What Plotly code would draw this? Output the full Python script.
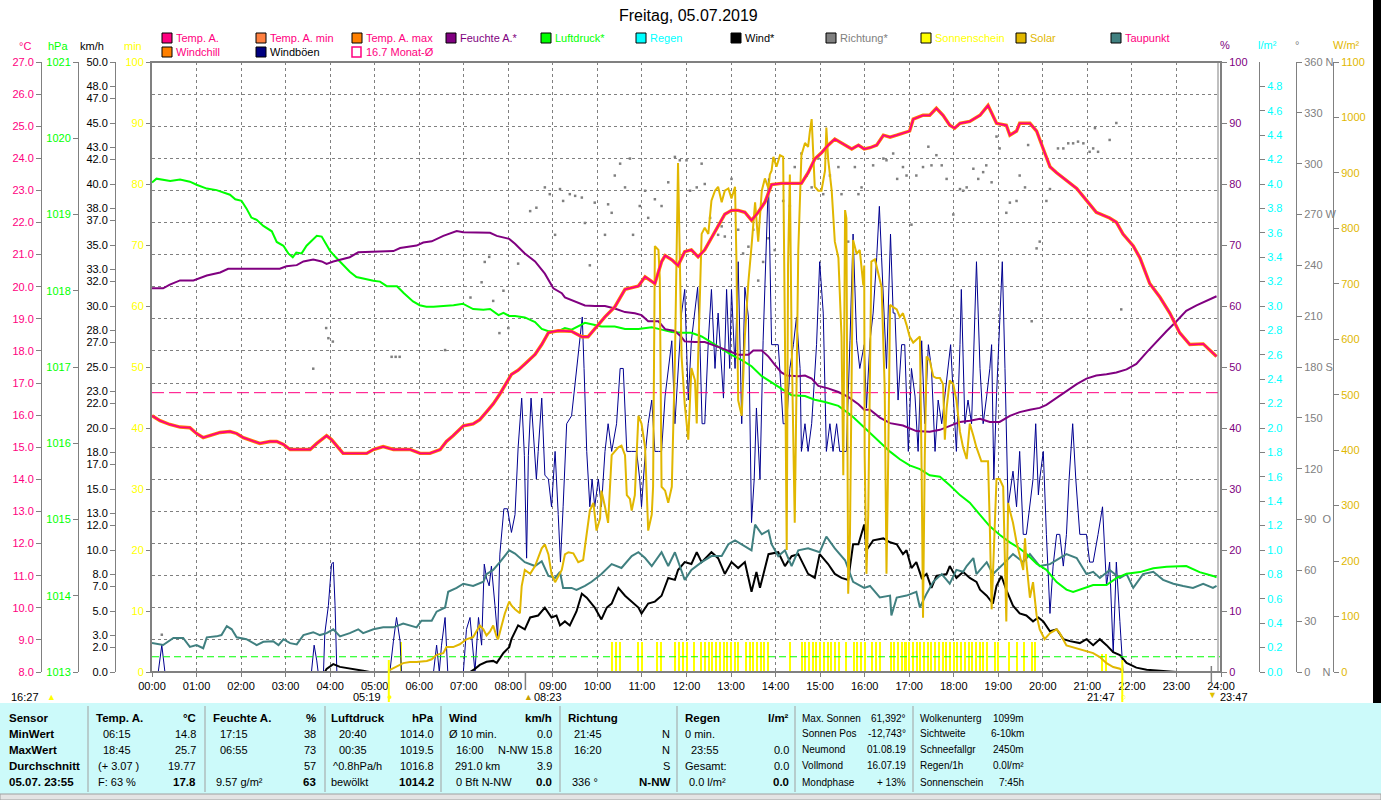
import plotly.graph_objects as go

W, H = 1381, 800
FONT = "Liberation Sans, Arial, sans-serif"

# ---------------- data (hours of day / values) ----------------
temp_t = [0, 0.18, 0.40, 0.63, 0.85, 1.00, 1.15, 1.30, 1.53, 1.75, 1.90, 2.05, 2.27, 2.42, 2.65, 2.80, 2.95, 3.10, 3.32, 3.55,
          3.70, 3.92, 4.03, 4.14, 4.29, 4.44, 4.82, 4.97, 5.19, 5.42, 5.79, 6.02, 6.24, 6.47, 6.61, 6.76, 6.99, 7.21, 7.36, 7.51,
          7.66, 7.81, 8.02,
          8.07, 8.22, 8.37, 8.60, 8.75, 8.90, 9.12, 9.42, 9.65, 9.79, 9.94, 10.17, 10.39, 10.62, 10.92, 11.07, 11.29, 11.44, 11.52, 11.67,
          11.81, 11.96, 12.11, 12.26, 12.41, 12.56, 12.71, 12.86, 13.01, 13.16, 13.31, 13.46, 13.61, 13.76, 13.91, 14.13, 14.36, 14.58, 14.73, 14.88,
          15.03, 15.18, 15.33, 15.48, 15.71, 15.86, 15.99,
          16.12, 16.27, 16.42, 16.57, 16.72, 16.86, 17.01, 17.09, 17.31, 17.46, 17.61, 17.76, 17.91, 18.02, 18.14, 18.36, 18.59, 18.77, 18.88, 18.96,
          19.18, 19.26, 19.41, 19.48, 19.71, 19.86, 20.01, 20.16, 20.31, 20.53, 20.76, 20.98, 21.20, 21.50, 21.65, 21.80, 22.03, 22.18, 22.40, 22.63,
          22.85, 23.07, 23.30, 23.60, 23.75, 23.90]
temp_v = [15.98, 15.83, 15.71, 15.63, 15.61, 15.43, 15.30, 15.36, 15.46, 15.49, 15.43, 15.30, 15.20, 15.12, 15.18, 15.18, 15.09, 14.93, 14.93, 14.93,
          15.12, 15.36, 15.24, 15.06, 14.81, 14.81, 14.81, 14.93, 15.02, 14.93, 14.93, 14.81, 14.81, 14.93, 15.18, 15.36, 15.67, 15.73, 15.86, 16.10,
          16.35, 16.66, 17.15,
          17.27, 17.40, 17.58, 17.89, 18.20, 18.57, 18.63, 18.61, 18.44, 18.44, 18.69, 19.06, 19.37, 19.92, 20.02, 20.31, 20.10, 20.78, 20.97, 20.84,
          20.66, 21.09, 21.15, 20.93, 21.15, 21.52, 21.89, 22.26, 22.38, 22.38, 22.32, 22.07, 22.32, 22.63, 23.18, 23.22, 23.22, 23.22, 23.55, 23.98,
          24.17, 24.41, 24.60, 24.48, 24.29, 24.41, 24.29,
          24.33, 24.41, 24.72, 24.66, 24.72, 24.78, 24.85, 25.22, 25.34, 25.34, 25.56, 25.34, 25.03, 24.94, 25.09, 25.15, 25.34, 25.65, 25.34, 25.09,
          25.03, 24.72, 24.85, 25.09, 25.09, 24.85, 24.29, 23.74, 23.55, 23.31, 23.06, 22.69, 22.32, 22.14, 22.01, 21.64, 21.27, 20.90, 20.10, 19.67,
          19.18, 18.57, 18.20, 18.22, 18.01, 17.83]

dew_t = [0, 0.25, 0.48, 0.70, 0.85, 1.00, 1.15, 1.23, 1.45, 1.56, 1.68, 1.79, 1.90, 2.12, 2.35, 2.50, 2.72, 2.84, 2.95, 3.10,
         3.25, 3.40, 3.62, 3.77, 3.92, 4.07, 4.22, 4.44, 4.63, 4.74, 4.97, 5.19, 5.42, 5.53, 5.64, 5.94, 6.05, 6.28, 6.39, 6.58,
         6.65, 6.84, 6.99, 7.21, 7.44, 7.51, 7.66, 7.81, 8.02,
         8.15, 8.37, 8.60, 8.75, 8.90, 9.05, 9.16, 9.23, 9.42, 9.53, 9.72, 9.87, 10.09, 10.32, 10.54, 10.77, 10.92, 11.07, 11.22, 11.44,
         11.59, 11.74, 11.96, 12.11, 12.34, 12.56, 12.79, 12.94, 13.09, 13.24, 13.46, 13.54, 13.69, 13.84, 13.91, 14.06, 14.21, 14.36, 14.51, 14.73,
         14.99, 15.14, 15.33, 15.56, 15.74, 15.99,
         16.12, 16.34, 16.57, 16.60, 16.72, 16.94, 17.16, 17.24, 17.39, 17.54, 17.73, 17.91, 18.06, 18.21, 18.29, 18.44, 18.51, 18.74, 18.88, 19.11,
         19.33, 19.56, 19.71, 19.93, 20.16, 20.38, 20.53, 20.76, 20.98, 21.13, 21.28, 21.50, 21.73, 21.88, 22.03, 22.25, 22.48, 22.70, 22.93, 23.15,
         23.37, 23.60, 23.82, 23.90]
dew_v = [8.90, 8.84, 9.06, 9.06, 8.78, 8.84, 8.74, 9.08, 9.11, 9.15, 9.43, 9.33, 9.08, 9.02, 8.84, 8.94, 8.96, 8.84, 9.02, 8.90,
         8.86, 9.15, 9.24, 9.15, 9.21, 9.33, 9.11, 9.21, 9.33, 9.21, 9.33, 9.39, 9.39, 9.45, 9.51, 9.39, 9.60, 9.60, 9.88, 10.01,
         10.50, 10.62, 10.75, 10.68, 10.81, 11.05, 11.18, 11.42, 11.79,
         11.69, 11.42, 11.30, 11.45, 10.99, 10.93, 11.12, 10.62, 10.62, 10.56, 10.68, 10.81, 11.05, 11.36, 11.24, 11.61, 11.73, 11.55, 11.30, 11.73,
         11.30, 11.73, 10.87, 11.18, 11.42, 11.61, 11.61, 11.98, 12.10, 11.98, 11.79, 12.59, 12.29, 12.41, 11.98, 11.61, 11.79, 11.30, 11.79, 11.85,
         11.73, 12.22, 11.85, 11.48, 10.81, 10.62,
         10.68, 10.32, 10.38, 9.76, 10.32, 10.38, 10.50, 10.01, 10.44, 10.81, 11.05, 10.75, 11.18, 11.12, 11.30, 11.55, 11.05, 11.42, 11.05, 11.36,
         11.67, 11.42, 11.67, 11.30, 11.36, 11.55, 11.67, 11.55, 11.05, 11.12, 10.93, 11.18, 10.93, 11.05, 10.62, 11.05, 11.12, 10.87, 10.75, 10.68,
         10.62, 10.75, 10.62, 10.68]

hum_t = [0, 0.25, 0.40, 0.63, 0.93, 1.23, 1.53, 1.71, 2.20, 2.87, 3.02, 3.25, 3.40, 3.62, 3.81, 3.92, 4.07, 4.22, 4.44, 4.63,
         4.89, 5.42, 5.57, 5.94, 6.09, 6.28, 6.54, 6.84, 6.99, 7.59, 7.74, 8.02,
         8.15, 8.37, 8.60, 8.82, 9.01, 9.20, 9.27, 9.50, 9.72, 9.94, 10.17, 10.39, 10.62, 10.84, 10.99, 11.14, 11.37, 11.52, 11.74, 11.89,
         11.96, 12.19, 12.41, 12.71, 13.01, 13.16, 13.39, 13.50, 13.69, 13.84, 13.98, 14.13, 14.25, 14.51, 14.66, 14.81, 14.96, 15.18, 15.41, 15.63,
         15.86, 15.99,
         16.12, 16.34, 16.57, 16.86, 17.16, 17.46, 17.69, 17.91, 18.14, 18.36, 18.59, 18.81, 19.03, 19.26, 19.48, 19.71, 19.93, 20.08, 20.31, 20.53,
         20.76, 20.98, 21.20, 21.43, 21.65, 21.88, 22.10, 22.33, 22.55, 22.78, 23.00, 23.22, 23.45, 23.67, 23.90]
hum_v = [62.9, 62.9, 63.5, 64.2, 64.2, 65.0, 65.5, 66.1, 66.1, 66.1, 66.5, 66.7, 67.3, 67.6, 67.3, 66.9, 67.3, 67.6, 68.0, 68.8,
         68.9, 69.0, 69.5, 69.9, 70.4, 70.6, 71.5, 72.3, 72.1, 72.0, 71.5, 71.0,
         70.2, 68.6, 67.3, 65.3, 62.9, 62.1, 61.4, 60.7, 60.1, 60.0, 60.0, 59.6, 59.0, 58.8, 58.5, 57.5, 57.5, 56.2, 55.9, 54.9,
         54.2, 54.1, 54.1, 53.3, 52.4, 52.0, 52.0, 52.7, 52.7, 51.7, 50.4, 49.1, 48.6, 48.5, 48.6, 48.1, 46.9, 46.5, 45.9, 45.1,
         43.9, 43.0,
         43.0, 41.7, 40.8, 40.4, 39.5, 39.4, 39.7, 40.4, 41.0, 41.2, 41.5, 41.0, 41.0, 42.0, 42.6, 43.0, 43.3, 43.8, 44.9, 46.0,
         47.2, 48.1, 48.6, 48.8, 49.1, 49.6, 50.5, 52.4, 54.2, 55.9, 57.5, 59.2, 60.1, 60.9, 61.6]

pres_t = [0, 0.10, 0.41, 0.63, 0.85, 1.00, 1.23, 1.45, 1.75, 1.87, 2.01, 2.12, 2.23, 2.35, 2.50, 2.69, 2.80, 2.95, 3.06, 3.16,
          3.24, 3.36, 3.47, 3.58, 3.70, 3.81, 3.88, 4.00, 4.11, 4.26, 4.44, 4.59, 4.74, 4.97, 5.12, 5.27, 5.50, 5.65, 5.86, 6.01,
          6.16, 6.32, 6.54, 6.77, 6.98, 7.21, 7.44, 7.59, 7.78, 7.89, 8.02,
          8.15, 8.37, 8.60, 8.75, 8.90, 9.12, 9.27, 9.42, 9.57, 9.72, 9.87, 10.09, 10.39, 10.62, 10.92, 11.22, 11.44, 11.67, 11.89, 12.11,
          12.34, 12.56, 12.79, 13.01, 13.24, 13.46, 13.69, 13.91, 14.13, 14.36, 14.66, 14.88, 15.11, 15.41, 15.71, 15.99,
          16.12, 16.34, 16.57, 16.79, 17.01, 17.24, 17.46, 17.69, 17.91, 18.14, 18.36, 18.59, 18.81, 19.03, 19.26, 19.48, 19.63, 19.86, 20.08, 20.31,
          20.53, 20.68, 20.91, 21.13, 21.43, 21.65, 21.88, 22.18, 22.48, 22.78, 23.22, 23.52, 23.82, 23.90]
pres_v = [1019.42, 1019.47, 1019.44, 1019.46, 1019.43, 1019.39, 1019.34, 1019.32, 1019.26, 1019.20, 1019.18, 1019.08, 1018.96, 1018.93, 1018.85,
          1018.78, 1018.64, 1018.59, 1018.49, 1018.44, 1018.50, 1018.49, 1018.59, 1018.65, 1018.72, 1018.71, 1018.64, 1018.52, 1018.45, 1018.36,
          1018.25, 1018.18, 1018.16, 1018.13, 1018.12, 1018.06, 1018.06, 1017.97, 1017.86, 1017.81, 1017.79, 1017.79, 1017.80, 1017.81, 1017.83,
          1017.76, 1017.75, 1017.76, 1017.68, 1017.71, 1017.67,
          1017.67, 1017.65, 1017.59, 1017.50, 1017.47, 1017.47, 1017.51, 1017.49, 1017.54, 1017.58, 1017.56, 1017.53, 1017.53, 1017.50, 1017.50,
          1017.52, 1017.49, 1017.46, 1017.45, 1017.45, 1017.40, 1017.32, 1017.24, 1017.16, 1017.09, 1017.01, 1016.88, 1016.80, 1016.72, 1016.63,
          1016.62, 1016.57, 1016.54, 1016.49, 1016.36, 1016.21,
          1016.13, 1016.02, 1015.89, 1015.79, 1015.71, 1015.66, 1015.58, 1015.56, 1015.45, 1015.32, 1015.22, 1015.06, 1014.91, 1014.80, 1014.70,
          1014.62, 1014.55, 1014.42, 1014.34, 1014.18, 1014.08, 1014.05, 1014.10, 1014.14, 1014.14, 1014.23, 1014.29, 1014.31, 1014.36, 1014.38,
          1014.39, 1014.31, 1014.26, 1014.24]

wind_t = [0, 3.88, 3.92, 4.07, 4.22, 4.44, 4.74, 4.89, 7.14, 7.25, 7.36, 7.51, 7.66, 7.74, 7.89, 8.02,
          8.07, 8.22, 8.37, 8.49, 8.67, 8.82, 8.97, 9.08, 9.16, 9.27, 9.38, 9.53, 9.65, 9.76, 9.94, 10.09, 10.21, 10.32, 10.47, 10.62,
          10.77, 10.92, 10.99, 11.14, 11.29, 11.44, 11.59, 11.74, 11.81, 11.96, 12.11, 12.23, 12.34, 12.56, 12.71, 12.86, 13.01, 13.16, 13.31, 13.46,
          13.57, 13.65, 13.84, 14.06, 14.21, 14.36, 14.51, 14.73, 14.88, 14.99, 15.18, 15.33, 15.48, 15.63, 15.74, 15.86, 15.99,
          16.04, 16.19, 16.42, 16.57, 16.72, 16.86, 16.94, 17.05, 17.16, 17.28, 17.39, 17.50, 17.61, 17.84, 17.91, 18.06, 18.21, 18.36, 18.51, 18.59,
          18.74, 18.88, 18.96, 19.07, 19.18, 19.33, 19.48, 19.63, 19.78, 19.90, 20.01, 20.16, 20.31, 20.46, 20.61, 20.83, 20.98, 21.13, 21.28, 21.43,
          21.58, 21.73, 21.88, 22.10, 22.33, 22.63, 22.78, 23.00]
wind_v = [0, 0, 0.26, 0.65, 0.42, 0.26, 0.10, 0, 0, 0.26, 0.58, 0.84, 0.91, 0.75, 1.56, 2.04,
          2.69, 3.82, 3.50, 4.47, 4.63, 5.28, 4.47, 4.63, 3.82, 4.15, 3.82, 4.96, 6.42, 6.09, 5.28, 4.31, 5.28, 5.61, 6.90, 6.25,
          5.77, 5.28, 4.80, 5.61, 5.77, 6.25, 7.71, 7.55, 8.36, 9.01, 8.85, 9.82, 9.01, 9.82, 9.33, 8.04, 9.01, 8.52, 9.01, 6.58,
          8.20, 6.90, 9.66, 9.82, 8.68, 9.49, 9.66, 8.04, 7.71, 9.66, 8.85, 8.04, 7.71, 7.55, 10.47, 10.47, 12.09,
          9.98, 10.79, 10.95, 10.63, 10.47, 9.66, 9.98, 8.52, 9.01, 7.71, 8.04, 6.90, 7.87, 8.04, 8.68, 7.71, 8.20, 7.71, 7.39, 6.74,
          6.25, 5.61, 7.06, 7.87, 6.74, 5.44, 4.80, 4.63, 4.15, 4.47, 4.15, 3.34, 3.50, 2.69, 2.53, 2.37, 2.69, 2.20, 2.69, 2.20,
          1.62, 1.39, 0.75, 0.36, 0.19, 0.10, 0.06, 0.0]

gust_t = [0, 0.14, 0.22, 0.29, 3.58, 3.64, 3.70, 3.73, 3.85, 3.88, 3.96, 4.03, 4.07, 4.11, 4.15, 5.34, 5.42, 5.49, 5.57, 5.60,
          6.32, 6.39, 6.45, 6.50, 6.58, 6.64, 6.99, 7.06, 7.14, 7.20, 7.25, 7.33, 7.40, 7.46, 7.51, 7.57, 7.62, 7.70, 7.76, 7.81,
          7.90, 7.98, 8.02,
          8.07, 8.15, 8.22, 8.30, 8.36, 8.41, 8.45, 8.51, 8.58, 8.63, 8.67, 8.75, 8.82, 8.90, 8.97, 9.05, 9.12, 9.17, 9.23, 9.31,
          9.42, 9.53, 9.61, 9.66, 9.70, 9.76, 9.83, 9.88, 9.94, 10.02, 10.09, 10.17, 10.24, 10.32, 10.43, 10.51, 10.58, 10.66, 10.77, 10.88,
          10.95, 10.99, 11.07, 11.14, 11.22, 11.29, 11.37, 11.44, 11.52, 11.59, 11.67, 11.74, 11.81, 11.89, 11.96, 12.04, 12.11, 12.19, 12.25, 12.30,
          12.35, 12.41, 12.49, 12.56, 12.64, 12.71, 12.79, 12.83, 12.90, 12.97, 13.01, 13.09, 13.16, 13.24, 13.31, 13.39, 13.46, 13.52, 13.57, 13.65,
          13.72, 13.84, 13.91, 14.06, 14.17, 14.25, 14.32, 14.40, 14.47, 14.55, 14.58, 14.66, 14.73, 14.81, 14.92, 14.99, 15.07, 15.14, 15.22, 15.29,
          15.37, 15.44, 15.52, 15.59, 15.67, 15.74, 15.82, 15.89, 15.99,
          16.04, 16.12, 16.19, 16.27, 16.33, 16.38, 16.43, 16.49, 16.58, 16.64, 16.68, 16.75, 16.83, 16.90, 16.98, 17.05, 17.13, 17.20, 17.28, 17.35,
          17.43, 17.50, 17.58, 17.65, 17.73, 17.80, 17.87, 17.93, 17.99, 18.06, 18.14, 18.17, 18.25, 18.32, 18.40, 18.47, 18.51, 18.59, 18.66, 18.74,
          18.81, 18.85, 18.90, 18.96, 19.03, 19.09, 19.15, 19.22, 19.33, 19.41, 19.48, 19.56, 19.63, 19.71, 19.78, 19.84, 19.90, 19.93, 20.01, 20.08,
          20.16, 20.23, 20.31, 20.38, 20.46, 20.53, 20.59, 20.67, 20.74, 20.83, 20.98, 21.05, 21.13, 21.24, 21.34, 21.43, 21.50, 21.58, 21.65, 21.73,
          21.80, 23.90]
gust_v = [0, 0, 2.2, 0, 0, 2.2, 0.91, 0, 0, 3.17, 5.44, 8.84, 9.0, 5.44, 0, 0, 2.53, 4.47, 2.53, 0,
          0, 2.2, 0, 2.2, 4.47, 0, 0, 3.5, 4.47, 2.2, 0, 4.47, 2.2, 8.84, 7.71, 7.06, 8.68, 5.44, 2.85, 9.66,
          13.38, 13.38, 12.57,
          11.44, 12.90, 18.40, 22.45, 17.76, 9.33, 17.76, 22.45, 18.40, 15.81, 18.08, 22.45, 16.14, 15.81, 13.54, 18.08, 12.90, 9.01, 13.54, 20.35,
          21.00, 24.88, 27.80, 29.10, 24.88, 18.08, 13.54, 15.81, 13.54, 15.81, 13.54, 18.08, 20.35, 18.08, 20.35, 24.88, 24.88, 18.08, 18.08, 18.08,
          15.81, 13.54, 17.76, 20.35, 22.29, 18.08, 18.08, 18.08, 22.62, 24.88, 27.15, 20.35, 24.88, 29.42, 31.36, 22.29, 27.15, 29.42, 31.53, 27.15,
          20.35, 20.35, 27.15, 31.36, 24.88, 29.42, 24.88, 22.45, 31.36, 24.88, 31.36, 24.88, 33.63, 20.35, 31.53, 29.10, 12.25, 15.81, 21.64, 15.81,
          27.15, 40.44, 26.83, 26.83, 20.35, 20.35, 24.88, 26.83, 29.10, 24.88, 18.08, 20.35, 18.08, 20.35, 26.83, 33.63, 29.42, 18.08, 20.35, 18.08,
          20.35, 18.08, 18.08, 18.08, 27.15, 35.90, 27.15, 24.88, 26.83,
          21.64, 27.15, 29.42, 33.96, 38.17, 33.96, 29.42, 24.88, 35.90, 29.42, 29.42, 22.29, 26.83, 26.83, 18.08, 24.88, 22.62, 18.08, 27.15, 20.35,
          26.83, 24.88, 18.08, 22.29, 20.35, 22.62, 24.88, 26.83, 22.62, 18.08, 26.83, 31.36, 20.35, 22.29, 20.35, 29.42, 33.63, 24.88, 20.35, 22.62,
          24.88, 26.83, 15.81, 22.62, 29.42, 33.63, 24.88, 13.54, 16.46, 13.54, 18.08, 11.28, 11.28, 13.54, 15.81, 20.35, 14.52, 15.81, 18.08, 11.28,
          4.80, 8.68, 11.28, 11.28, 8.68, 11.28, 15.81, 20.35, 15.81, 11.28, 11.28, 9.01, 9.01, 11.28, 13.54, 7.06, 9.01, 1.56, 9.01, 4.15,
          0, 0]

solar_t = [5.30, 5.49, 5.64, 5.79, 5.94, 6.17, 6.28, 6.39, 6.54, 6.61, 6.76, 6.91, 7.06, 7.21, 7.29, 7.36, 7.44, 7.51, 7.59, 7.66,
           7.74, 7.77, 7.85, 7.92, 8.02,
           8.07, 8.15, 8.22, 8.26, 8.30, 8.37, 8.49, 8.60, 8.75, 8.82, 8.90, 8.97, 9.05, 9.12, 9.20, 9.27, 9.35, 9.46, 9.57, 9.68,
           9.76, 9.83, 9.91, 9.98, 10.06, 10.09, 10.17, 10.24, 10.32, 10.39, 10.47, 10.54, 10.62, 10.66, 10.73, 10.77, 10.84, 10.92, 10.99, 11.07,
           11.14, 11.22, 11.25, 11.29, 11.37, 11.40, 11.44, 11.52, 11.59, 11.67, 11.74, 11.81, 11.89, 11.96, 12.04, 12.11, 12.19, 12.23, 12.26, 12.34,
           12.41, 12.49, 12.56, 12.64, 12.71, 12.79, 12.86, 12.94, 13.01, 13.09, 13.12, 13.16, 13.24, 13.31, 13.39, 13.46, 13.54, 13.61, 13.69, 13.76,
           13.84, 13.87, 13.91, 13.95, 14.02, 14.10, 14.17, 14.21, 14.25, 14.28, 14.32, 14.36, 14.43, 14.51, 14.58, 14.66, 14.73, 14.77, 14.81, 14.88,
           14.96, 15.03, 15.11, 15.14, 15.18, 15.26, 15.33, 15.41, 15.48, 15.52, 15.56, 15.59, 15.63, 15.67, 15.74, 15.82, 15.89, 15.97, 15.99,
           16.00, 16.04, 16.08, 16.12, 16.15, 16.23, 16.30, 16.38, 16.45, 16.49, 16.53, 16.57, 16.64, 16.72, 16.79, 16.86, 16.94, 17.01, 17.09, 17.20,
           17.24, 17.28, 17.31, 17.35, 17.39, 17.46, 17.54, 17.61, 17.69, 17.76, 17.80, 17.84, 17.91, 17.99, 18.06, 18.14, 18.21, 18.29, 18.36, 18.44,
           18.51, 18.62, 18.77, 18.81, 18.85, 18.88, 18.96, 19.03, 19.11, 19.18, 19.22, 19.26, 19.33, 19.41, 19.48, 19.56, 19.60, 19.63, 19.71, 19.78,
           19.86, 19.93, 20.04, 20.16, 20.31, 20.38, 20.53, 20.83, 21.13, 21.28, 21.43, 21.58, 21.73, 21.80]
solar_v = [2, 9, 16, 18, 18, 20, 23, 31, 34, 45, 45, 50, 59, 63, 73, 84, 77, 66, 73, 84,
           63, 59, 84, 105, 127,
           120, 113, 109, 106, 155, 184, 177, 191, 223, 230, 212, 177, 162, 173, 184, 212, 216, 214, 198, 202,
           255, 291, 305, 255, 277, 327, 298, 269, 391, 398, 405, 408, 391, 319, 312, 291, 319, 462, 448, 405,
           255, 284, 334, 768, 761, 711, 334, 327, 305, 334, 562, 918, 569, 483, 419, 548, 526, 448, 562, 790,
           801, 790, 850, 868, 875, 847, 868, 872, 854, 875, 747, 490, 462, 605, 704, 768, 847, 776, 868, 890,
           872, 897, 904, 929, 911, 932, 929, 605, 220, 733, 897, 597, 269, 761, 932, 954, 947, 975, 997, 875,
           868, 868, 904, 982, 925, 868, 776, 747, 605, 355, 833, 818, 141, 248, 779, 754, 761, 697, 733,
           391, 177, 284, 533, 740, 744, 719, 694, 512, 177, 391, 662, 658, 654, 640, 647, 626, 605, 594, 601,
           605, 355, 98, 391, 569, 562, 533, 530, 530, 519, 419, 476, 526, 519, 490, 433, 405, 384, 448, 426,
           405, 380, 380, 262, 113, 177, 348, 348, 334, 91, 305, 291, 269, 234, 212, 184, 241, 198, 134, 162,
           102, 77, 59, 70, 77, 70, 48, 41, 34, 27, 16, 9, 6, 0]

dir_t = [0.22, 3.62, 3.91, 3.96, 4.06, 5.38, 5.47, 5.56, 6.58, 7.15, 7.40, 7.47, 7.57, 7.66, 7.80, 7.89, 8.00,
         8.22, 8.49, 8.63, 8.82, 8.93, 9.05, 9.16, 9.23, 9.38, 9.50, 9.65, 9.72, 9.83, 9.94, 10.17, 10.24, 10.32, 10.39, 10.51, 10.62,
         10.73, 10.80, 10.95, 11.07, 11.14, 11.29, 11.44, 11.59, 11.74, 11.85, 12.00, 12.08, 12.23, 12.34, 12.41, 12.53, 12.71, 12.79, 12.86, 13.01,
         13.16, 13.27, 13.39, 13.50, 13.61, 13.72, 13.84, 13.98, 14.17, 14.32, 14.43, 14.58, 14.70, 14.81, 14.96, 15.07, 15.22, 15.41, 15.48, 15.63,
         15.78, 15.86, 15.93,
         16.19, 16.42, 16.49, 16.64, 16.73, 16.86, 16.94, 17.05, 17.16, 17.31, 17.43, 17.50, 17.61, 17.73, 17.84, 17.99, 18.14, 18.21, 18.29, 18.44,
         18.55, 18.66, 18.73, 18.85, 18.96, 19.03, 19.18, 19.26, 19.41, 19.48, 19.60, 19.67, 19.75, 19.86, 19.93, 20.08, 20.16, 20.34, 20.46, 20.57,
         20.68, 20.79, 20.91, 21.05, 21.13, 21.17, 21.24, 21.50, 21.65, 21.76]
dir_v = [22, 179, 203, 197, 195, 186, 186, 186, 190, 221, 230, 242, 245, 219, 200, 225, 203,
         241, 272, 274, 286, 282, 258, 285, 278, 282, 281, 280, 265, 240, 277, 258, 276, 271, 293, 300, 286,
         303, 258, 275, 284, 268, 279, 275, 289, 304, 302, 302, 284, 286, 300, 288, 268, 258, 263, 257, 291,
         261, 247, 251, 261, 231, 242, 256, 249, 278, 275, 298, 306, 293, 286, 303, 282, 293, 298, 282, 254,
         298, 282, 286,
         299, 303, 302, 306, 291, 298, 293, 264, 293, 298, 310, 299, 305, 299, 291, 270, 285, 284, 286, 297,
         291, 295, 299, 289, 316, 309, 271, 277, 278, 293, 286, 311, 207, 250, 254, 278, 285, 309, 309, 312,
         312, 313, 312, 307, 309, 321, 307, 314, 324, 214]

sun_slots = ["05:35", "10:20", "10:25", "10:30", "10:55", "11:00", "11:20", "11:25", "11:45", "11:50", "11:55", "12:00", "12:10",
             "12:20", "12:25", "12:30", "12:35", "12:40", "12:45", "12:50", "12:55", "13:00", "13:05", "13:10",
             "13:20", "13:25", "13:30", "13:35", "13:40", "13:45", "13:50", "14:20",
             "14:35", "14:40", "14:45", "14:50", "14:55", "15:00", "15:05", "15:10", "15:15", "15:20", "15:25", "15:35",
             "15:45", "15:50", "15:55", "16:00", "16:10", "16:15", "16:20",
             "16:35", "16:40", "16:45", "16:50", "16:55", "17:00", "17:05", "17:10", "17:15", "17:20", "17:25", "17:30", "17:35",
             "17:40", "17:45", "17:50", "17:55", "18:00", "18:05", "18:10", "18:15", "18:20", "18:25", "18:30", "18:35", "18:40", "18:45",
             "18:55", "19:00", "19:15", "19:25", "19:35", "19:45", "19:50", "21:20", "21:25"]
sun_min = [5, 5, 5, 5, 5, 5, 5, 5, 5, 5, 5, 5, 5,
           5, 5, 5, 5, 5, 5, 5, 5, 5, 5, 5,
           5, 5, 5, 5, 5, 5, 5, 5,
           5, 5, 5, 5, 5, 5, 5, 5, 5, 5, 5, 5,
           5, 5, 5, 5, 5, 5, 5,
           5, 5, 5, 5, 5, 5, 5, 5, 5, 5, 5, 5, 5,
           5, 5, 5, 5, 5, 5, 5, 5, 5, 5, 5, 5, 5, 5,
           5, 5, 5, 5, 5, 5, 5, 3, 3]

rain_t = [0, 3, 6, 9, 12, 15, 18, 21, 24]
rain_v = [0.0, 0.0, 0.0, 0.0, 0.0, 0.0, 0.0, 0.0, 0.0]

month_avg_temp = 16.7
std_pressure = 1013.2
ref_t = [0, 24]

sunrise, sunset, now_mark, moonset = "05:19", "21:47", "08:23", "23:47"

hour_labels = ["%02d:00" % h for h in range(25)]
temp_ticks = [8, 9, 10, 11, 12, 13, 14, 15, 16, 17, 18, 19, 20, 21, 22, 23, 24, 25, 26, 27]
hpa_ticks = [1013, 1014, 1015, 1016, 1017, 1018, 1019, 1020, 1021]
kmh_ticks = [0, 2, 3, 5, 7, 8, 10, 12, 13, 15, 17, 18, 20, 22, 23, 25, 27, 28, 30, 32, 33, 35, 37, 38, 40, 42, 43, 45, 47, 48, 50]
min_ticks = [0, 10, 20, 30, 40, 50, 60, 70, 80, 90, 100]
pct_ticks = [0, 10, 20, 30, 40, 50, 60, 70, 80, 90, 100]
rain_ticks = [0.0, 0.2, 0.4, 0.6, 0.8, 1.0, 1.2, 1.4, 1.6, 1.8, 2.0, 2.2, 2.4, 2.6, 2.8, 3.0, 3.2, 3.4, 3.6, 3.8, 4.0, 4.2, 4.4, 4.6, 4.8]
deg_ticks = [0, 30, 60, 90, 120, 150, 180, 210, 240, 270, 300, 330, 360]
deg_text = ["0\u00a0\u00a0\u00a0\u00a0N", "30", "60", "90\u00a0\u00a0O", "120", "150", "180\u00a0S", "210", "240",
            "270\u00a0W", "300", "330", "360\u00a0N"]
wm2_ticks = [0, 100, 200, 300, 400, 500, 600, 700, 800, 900, 1000, 1100]


def hm(s):
    h, m = s.split(":")
    return int(h) + int(m) / 60.0


sun_x = [hm(s) for s in sun_slots]

# ---------------- colours ----------------
C_TEMP = "#FF0080"
C_TMAX = "#FF8000"
C_TMIN = "#FF8040"
C_HUM = "#800080"
C_PRES = "#00FF00"
C_RAIN = "#00FFFF"
C_DIR = "#808080"
C_SUN = "#FFFF00"
C_SOLAR = "#E1B700"
C_DEW = "#408080"
C_GUST = "#000090"
GRID = "#808080"


def PX(x):
    return x / W


def PY(y):
    return 1 - y / H


DOM = [PY(672), PY(62)]

fig = go.Figure()

fig.add_trace(go.Bar(x=sun_x, y=sun_min, width=0.045, marker=dict(color=C_SUN, line=dict(width=0)),
                     xaxis="x", yaxis="y", name="Sonnenschein"))
fig.add_trace(go.Scatter(x=dir_t, y=dir_v, mode="markers", marker=dict(size=2.5, color=C_DIR, symbol="square"),
                         yaxis="y2", name="Richtung*"))
fig.add_trace(go.Scatter(x=gust_t, y=gust_v, mode="lines", line=dict(color=C_GUST, width=1), yaxis="y3", name="Windböen"))
fig.add_trace(go.Scatter(x=wind_t, y=wind_v, mode="lines", line=dict(color="#000000", width=2), yaxis="y3", name="Wind*"))
fig.add_trace(go.Scatter(x=dew_t, y=dew_v, mode="lines", line=dict(color=C_DEW, width=2), yaxis="y4", name="Taupunkt"))
fig.add_trace(go.Scatter(x=ref_t, y=[month_avg_temp, month_avg_temp], mode="lines",
                         line=dict(color=C_TEMP, width=1, dash="12px,5px"), yaxis="y4", name="16.7 Monat-Ø"))
fig.add_trace(go.Scatter(x=ref_t, y=[std_pressure, std_pressure], mode="lines",
                         line=dict(color=C_PRES, width=1, dash="7px,4px"), yaxis="y5", name="1013.2"))
fig.add_trace(go.Scatter(x=pres_t, y=pres_v, mode="lines", line=dict(color=C_PRES, width=2), yaxis="y5", name="Luftdruck*"))
fig.add_trace(go.Scatter(x=hum_t, y=hum_v, mode="lines", line=dict(color=C_HUM, width=2), yaxis="y6", name="Feuchte A.*"))
fig.add_trace(go.Scatter(x=solar_t, y=solar_v, mode="lines", line=dict(color=C_SOLAR, width=2), yaxis="y7", name="Solar"))
fig.add_trace(go.Scatter(x=rain_t, y=rain_v, mode="lines", line=dict(color=C_RAIN, width=2), yaxis="y8", name="Regen"))
fig.add_trace(go.Scatter(x=temp_t, y=temp_v, mode="lines", line=dict(color=C_TMAX, width=3.4), yaxis="y9", name="Temp. A. max"))
fig.add_trace(go.Scatter(x=temp_t, y=temp_v, mode="lines", line=dict(color=C_TEMP, width=1.8), yaxis="y9", name="Temp. A."))


def tf(color):
    return dict(family=FONT, size=11, color=color)


def free_axis(pos, side, rng, vals, text, color, visible=True):
    return dict(overlaying="y", anchor="free", position=pos, side=side, range=rng, domain=DOM,
                tickmode="array", tickvals=vals, ticktext=text, ticks="outside", ticklen=5, tickcolor=GRID,
                showline=True, linecolor=GRID, linewidth=1, showgrid=False, zeroline=False,
                tickfont=tf(color), automargin=False, fixedrange=True, visible=visible)


layout = dict(
    template="none",
    width=W, height=H, autosize=False,
    margin=dict(l=0, r=0, t=0, b=0, pad=0),
    paper_bgcolor="white", plot_bgcolor="white", showlegend=False,
    font=dict(family=FONT, size=11, color="black"),
    bargap=0,
    xaxis=dict(domain=[PX(152), PX(1221)], range=[0, 24], tickmode="array", tickvals=list(range(25)),
               ticktext=hour_labels, showgrid=True, gridcolor=GRID, griddash="3px,3px", gridwidth=1,
               ticks="outside", ticklen=4, tickcolor=GRID, tickfont=tf("black"), showline=False,
               zeroline=False, automargin=False, fixedrange=True),
    yaxis=dict(domain=DOM, range=[0, 100], tickmode="array", tickvals=min_ticks,
               ticktext=[str(v) for v in min_ticks], ticks="outside", ticklen=5, tickcolor=GRID,
               tickfont=tf(C_SUN), showgrid=False, zeroline=False, showline=False, automargin=False,
               fixedrange=True,
               minor=dict(tickmode="linear", tick0=0, dtick=100 / 19, showgrid=True, gridcolor=GRID,
                          griddash="3px,3px", gridwidth=1, ticks="")),
    yaxis2=free_axis(PX(1296), "right", [0, 360], deg_ticks, deg_text, C_DIR),
    yaxis3=free_axis(PX(115), "left", [0, 50], kmh_ticks, ["%.1f" % v for v in kmh_ticks], "black"),
    yaxis4=free_axis(PX(41), "left", [8, 27], temp_ticks, ["%.1f" % v for v in temp_ticks], C_TEMP),
    yaxis5=free_axis(PX(78), "left", [1013, 1021], hpa_ticks, [str(v) for v in hpa_ticks], C_PRES),
    yaxis6=dict(overlaying="y", anchor="x", side="right", range=[0, 100], domain=DOM, tickmode="array",
                tickvals=pct_ticks, ticktext=[str(v) for v in pct_ticks], ticks="outside", ticklen=5,
                tickcolor=GRID, showline=False, showgrid=False, zeroline=False, tickfont=tf(C_HUM),
                automargin=False, fixedrange=True),
    yaxis7=free_axis(PX(1333), "right", [0, 1100], wm2_ticks, [str(v) for v in wm2_ticks], C_SOLAR),
    yaxis8=free_axis(PX(1259), "right", [0, 5], rain_ticks, ["%.1f" % v for v in rain_ticks], C_RAIN),
    yaxis9=free_axis(PX(41), "left", [8, 27], temp_ticks, ["%.1f" % v for v in temp_ticks], C_TEMP, visible=False),
)

shapes = []
annotations = []


def rect(x0, y0, x1, y1, fill=None, lc=None, lw=1):
    shapes.append(dict(type="rect", xref="paper", yref="paper", x0=PX(x0), x1=PX(x1), y0=PY(y1), y1=PY(y0),
                       fillcolor=fill if fill else "rgba(0,0,0,0)",
                       line=dict(color=lc if lc else "rgba(0,0,0,0)", width=lw if lc else 0), layer="above"))


def pline(x0, y0, x1, y1, color, w=1):
    shapes.append(dict(type="line", xref="paper", yref="paper", x0=PX(x0), x1=PX(x1), y0=PY(y0), y1=PY(y1),
                       line=dict(color=color, width=w), layer="above"))


def ann(x, y, s, color="black", size=11, xa="left", bold=False):
    annotations.append(dict(xref="paper", yref="paper", x=PX(x), y=PY(y), text=("<b>%s</b>" % s) if bold else s,
                            showarrow=False, xanchor=xa, yanchor="middle", borderpad=0,
                            font=dict(family=FONT, size=size, color=color)))


# plot frame
rect(151, 62, 1221, 672, lc=GRID, lw=2)
pline(1218, 62, 1218, 672, GRID, 1)

# title
ann(688, 15, "Freitag, 05.07.2019", size=16, xa="center")

# axis unit labels
ann(25, 46, "°C", C_TEMP, xa="center")
ann(58, 46, "hPa", C_PRES, xa="center")
ann(92, 46, "km/h", "black", xa="center")
ann(133, 46, "min", C_SUN, xa="center")
ann(1225, 45, "%", C_HUM, xa="center")
ann(1267, 45, "l/m²", C_RAIN, xa="center")
ann(1297, 45, "°", C_DIR, xa="center")
ann(1346, 45, "W/m²", C_SOLAR, xa="center")

# legend
legend_items = [
    (162, 38, C_TEMP, "Temp. A.", C_TEMP),
    (256, 38, C_TMIN, "Temp. A. min", C_TEMP),
    (352, 38, C_TMAX, "Temp. A. max", C_TEMP),
    (446, 38, C_HUM, "Feuchte A.*", C_HUM),
    (541, 38, C_PRES, "Luftdruck*", C_PRES),
    (636, 38, C_RAIN, "Regen", C_RAIN),
    (731, 38, "#000000", "Wind*", "#000000"),
    (826, 38, C_DIR, "Richtung*", C_DIR),
    (921, 38, C_SUN, "Sonnenschein", C_SUN),
    (1016, 38, C_SOLAR, "Solar", C_SOLAR),
    (1111, 38, C_DEW, "Taupunkt", C_TEMP),
    (162, 52, C_TMAX, "Windchill", C_TEMP),
    (256, 52, "#000080", "Windböen", "#000000"),
    (352, 52, None, "16.7 Monat-Ø", C_TEMP),
]
for x, y, sq, label, tc in legend_items:
    if sq:
        rect(x, y - 5, x + 10, y + 5, fill=sq, lc="#000000", lw=1)
    else:
        rect(x, y - 5, x + 9, y + 5, lc=C_TEMP, lw=1.5)
    ann(x + 13, y, label, tc)

# right black strip
rect(1373, 0, 1381, 703, fill="#000000")

# sun / moon markers below the time axis
for t, col, w, y0, y1 in [(sunrise, C_SUN, 2, 660, 702), (sunset, C_SUN, 2, 660, 702),
                          (now_mark, GRID, 1.5, 672, 690), (moonset, GRID, 1.5, 666, 683)]:
    shapes.append(dict(type="line", xref="x", yref="paper", x0=hm(t), x1=hm(t), y0=PY(y1), y1=PY(y0),
                       line=dict(color=col, width=w), layer="above"))
ann(10, 697, "16:27")
ann(46, 697, "▲", C_SUN, size=9)
ann(382, 697, "05:19", xa="right")
ann(389, 697, "●", C_SUN, size=9, xa="center")
ann(533, 697, "08:23")
ann(528, 697, "▲", "#C8A000", size=9, xa="center")
ann(1116, 697, "21:47", xa="right")
ann(1123, 697, "○", C_SUN, size=9, xa="center")
ann(1219, 697, "23:47")
ann(1212, 695, "▼", "#E0C000", size=9, xa="center")

# ---------------- bottom info panel ----------------
rect(0, 703, 1381, 800, fill="#CCFAFA")
rect(0, 794, 1381, 800, fill="#E4E4E4", lc="#A0A0A0", lw=1)
for sx in [88, 205, 325, 441, 560, 677, 795, 913]:
    pline(sx, 706, sx, 792, "#A0A0A0", 1)

ROWS = [718, 733.5, 749.5, 765.5, 782]
table = [
    (8, 0, "Sensor", "left", True), (8, 1, "MinWert", "left", True), (8, 2, "MaxWert", "left", True),
    (8, 3, "Durchschnitt", "left", True), (8, 4, "05.07. 23:55", "left", True),
    (95, 0, "Temp. A.", "left", True), (197, 0, "°C", "right", True),
    (102, 1, "06:15", "left", False), (197, 1, "14.8", "right", False),
    (102, 2, "18:45", "left", False), (197, 2, "25.7", "right", False),
    (97, 3, "(+ 3.07 )", "left", False), (197, 3, "19.77", "right", False),
    (97, 4, "F: 63 %", "left", False), (197, 4, "17.8", "right", True),
    (212, 0, "Feuchte A.", "left", True), (317, 0, "%", "right", True),
    (219, 1, "17:15", "left", False), (317, 1, "38", "right", False),
    (219, 2, "06:55", "left", False), (317, 2, "73", "right", False),
    (317, 3, "57", "right", False),
    (215, 4, "9.57 g/m²", "left", False), (317, 4, "63", "right", True),
    (330, 0, "Luftdruck", "left", True), (435, 0, "hPa", "right", True),
    (338, 1, "20:40", "left", False), (435, 1, "1014.0", "right", False),
    (338, 2, "00:35", "left", False), (435, 2, "1019.5", "right", False),
    (332, 3, "^0.8hPa/h", "left", False), (435, 3, "1016.8", "right", False),
    (330, 4, "bewölkt", "left", False), (435, 4, "1014.2", "right", True),
    (448, 0, "Wind", "left", True), (553, 0, "km/h", "right", True),
    (448, 1, "Ø 10 min.", "left", False), (553, 1, "0.0", "right", False),
    (455, 2, "16:00", "left", False), (553, 2, "N-NW 15.8", "right", False),
    (454, 3, "291.0 km", "left", False), (553, 3, "3.9", "right", False),
    (455, 4, "0 Bft N-NW", "left", False), (553, 4, "0.0", "right", True),
    (567, 0, "Richtung", "left", True),
    (573, 1, "21:45", "left", False), (671, 1, "N", "right", False),
    (573, 2, "16:20", "left", False), (671, 2, "N", "right", False),
    (671, 3, "S", "right", False),
    (571, 4, "336 °", "left", False), (671, 4, "N-NW", "right", True),
    (684, 0, "Regen", "left", True), (790, 0, "l/m²", "right", True),
    (684, 1, "0 min.", "left", False),
    (690, 2, "23:55", "left", False), (790, 2, "0.0", "right", False),
    (684, 3, "Gesamt:", "left", False), (790, 3, "0.0", "right", False),
    (688, 4, "0.0 l/m²", "left", False), (790, 4, "0.0", "right", True),
    (801, 0, "Max. Sonnen", "left", False), (907, 0, "61,392°", "right", False),
    (801, 1, "Sonnen Pos", "left", False), (907, 1, "-12,743°", "right", False),
    (801, 2, "Neumond", "left", False), (907, 2, "01.08.19", "right", False),
    (801, 3, "Vollmond", "left", False), (907, 3, "16.07.19", "right", False),
    (801, 4, "Mondphase", "left", False), (907, 4, "+ 13%", "right", False),
    (919, 0, "Wolkenunterg", "left", False), (1025, 0, "1099m", "right", False),
    (919, 1, "Sichtweite", "left", False), (1025, 1, "6-10km", "right", False),
    (919, 2, "Schneefallgr", "left", False), (1025, 2, "2450m", "right", False),
    (919, 3, "Regen/1h", "left", False), (1025, 3, "0.0l/m²", "right", False),
    (919, 4, "Sonnenschein", "left", False), (1025, 4, "7:45h", "right", False),
]
for x, r, s, xa, b in table:
    ann(x, ROWS[r], s, "black", size=11.5 if b else (10 if x >= 795 else 11), xa=xa, bold=b)

layout["shapes"] = shapes
layout["annotations"] = annotations
fig.update_layout(**layout)

fig.write_html("out.html", config={"staticPlot": True, "displayModeBar": False},
               post_script="document.body.style.margin='0';document.body.style.overflow='hidden';")
